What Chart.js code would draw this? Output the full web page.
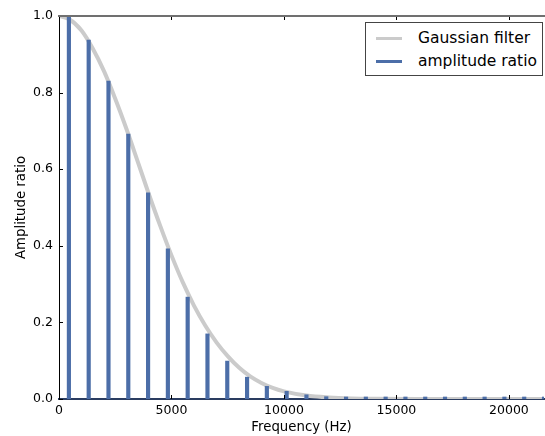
<!DOCTYPE html>
<html>
<head>
<meta charset="utf-8">
<script src="https://cdn.jsdelivr.net/npm/chart.js@4/dist/chart.umd.min.js"></script>
<style>
  html, body { margin: 0; padding: 0; background: #fff; }
  #wrap { position: relative; width: 545px; height: 436px; }
  #legend {
    position: absolute; left: 365px; top: 22px; width: 176px; height: 52px;
    border: 1px solid #444; background: #fff;
    font-family: "DejaVu Sans", sans-serif; font-size: 15.5px; color: #000;
  }
  .item { position: absolute; left: 10px; height: 16px; line-height: 16px; white-space: nowrap; }
  .item span { display: inline-block; width: 26px; height: 3px; vertical-align: middle; margin-right: 16px; }
</style>
</head>
<body>
<div id="wrap">
  <canvas id="grafico" width="545" height="436"></canvas>
  <div id="legend">
    <div class="item" style="top:7px"><span style="background:#cbcbcb"></span>Gaussian filter</div>
    <div class="item" style="top:30px"><span style="background:#4c6ea8"></span>amplitude ratio</div>
  </div>
</div>
<script>
// Armónicos impares de 440 Hz
const frecuencias = [440, 1320, 2200, 3080, 3960, 4840, 5720, 6600, 7480, 8360, 9240, 10120, 11000,
    11880, 12760, 13640, 14520, 15400, 16280, 17160, 18040, 18920, 19800, 20680, 21560];
const amplitudes = [0.997, 0.937, 0.830, 0.692, 0.538, 0.392, 0.266, 0.170, 0.099, 0.057, 0.033, 0.020, 0.011,
    0.006, 0.003, 0.001, 0.0005, 0.0003, 0.0001, 0, 0, 0, 0, 0, 0];

// Curva del filtro gaussiano
const curvaFrec = [0, 440, 1000, 1500, 2000, 2500, 3000, 3500, 4000, 4500, 5000, 5500, 6000, 6500, 7000,
    7500, 8000, 8500, 9000, 9500, 10000, 11000, 12000, 13000, 14000, 16000, 18000, 20000, 21560];
const curvaValor = [1.0, 0.992, 0.962, 0.915, 0.856, 0.784, 0.705, 0.620, 0.534, 0.452, 0.375, 0.305, 0.244,
    0.192, 0.148, 0.112, 0.082, 0.059, 0.042, 0.029, 0.020, 0.009, 0.004, 0.0015, 0.0005, 0, 0, 0, 0];

const xTicks = [0, 5000, 10000, 15000, 20000];
const yTicks = [0, 0.2, 0.4, 0.6, 0.8, 1.0];

const fuente = '"DejaVu Sans", sans-serif';

// Marcas de los ejes hacia dentro y borde superior
const ejesPlugin = {
    id: 'ejes',
    afterDatasetsDraw(chart) {
        const ctx = chart.ctx;
        const a = chart.chartArea;
        const x = chart.scales.x;
        const y = chart.scales.y;
        ctx.save();
        ctx.strokeStyle = '#000';
        ctx.lineWidth = 1;
        xTicks.forEach(function (v) {
            const px = Math.round(x.getPixelForValue(v)) + 0.5;
            ctx.beginPath();
            ctx.moveTo(px, a.bottom); ctx.lineTo(px, a.bottom - 4);
            ctx.moveTo(px, a.top); ctx.lineTo(px, a.top + 4);
            ctx.stroke();
        });
        yTicks.forEach(function (v) {
            const py = Math.round(y.getPixelForValue(v)) + 0.5;
            ctx.beginPath();
            ctx.moveTo(a.left, py); ctx.lineTo(a.left + 4, py);
            ctx.stroke();
        });
        ctx.strokeStyle = '#707070';
        ctx.lineWidth = 2;
        ctx.beginPath();
        ctx.moveTo(a.left - 1, a.top);
        ctx.lineTo(chart.width, a.top);
        ctx.stroke();
        ctx.restore();
    }
};

const ctx = document.getElementById('grafico').getContext('2d');
const myChart = new Chart(ctx, {
    type: 'bar',
    data: {
        datasets: [{
            type: 'bar',
            label: 'amplitude ratio',
            data: frecuencias.map((f, i) => ({ x: f, y: amplitudes[i] })),
            backgroundColor: '#4c6ea8',
            borderWidth: 0,
            barThickness: 3.5,
            minBarLength: 2,
            order: 0
        }, {
            type: 'line',
            label: 'Gaussian filter',
            data: curvaFrec.map((f, i) => ({ x: f, y: curvaValor[i] })),
            borderColor: '#cbcbcb',
            borderWidth: 4,
            pointRadius: 0,
            cubicInterpolationMode: 'monotone',
            fill: false,
            order: 1
        }]
    },
    options: {
        responsive: false,
        animation: false,
        events: [],
        layout: { padding: { top: 16, right: 1, left: 0, bottom: 0 } },
        plugins: { legend: { display: false }, tooltip: { enabled: false } },
        scales: {
            x: {
                type: 'linear',
                min: 0,
                max: 21560,
                offset: false,
                afterBuildTicks: function (s) { s.ticks = xTicks.map(v => ({ value: v })); },
                afterFit: function (s) { s.height = 37; },
                grid: { display: false, drawTicks: false },
                border: { display: true, color: '#2a3c60', width: 2 },
                ticks: { padding: 4, color: '#000', font: { family: fuente, size: 12.5 }, maxRotation: 0, callback: v => String(v) },
                title: { display: true, text: 'Frequency (Hz)', color: '#000', font: { family: fuente, size: 13.3 }, padding: { top: 2, bottom: 0 } }
            },
            y: {
                min: 0,
                max: 1,
                afterBuildTicks: function (s) { s.ticks = yTicks.map(v => ({ value: v })); },
                afterFit: function (s) { s.width = 59; },
                grid: { display: false, drawTicks: false },
                border: { display: true, color: '#000', width: 1 },
                ticks: { padding: 6, color: '#000', font: { family: fuente, size: 12.5 }, callback: v => v.toFixed(1) },
                title: { display: true, text: 'Amplitude ratio', color: '#000', font: { family: fuente, size: 13.3 }, padding: { top: 14, bottom: 4 } }
            }
        }
    },
    plugins: [ejesPlugin]
});
</script>
</body>
</html>
